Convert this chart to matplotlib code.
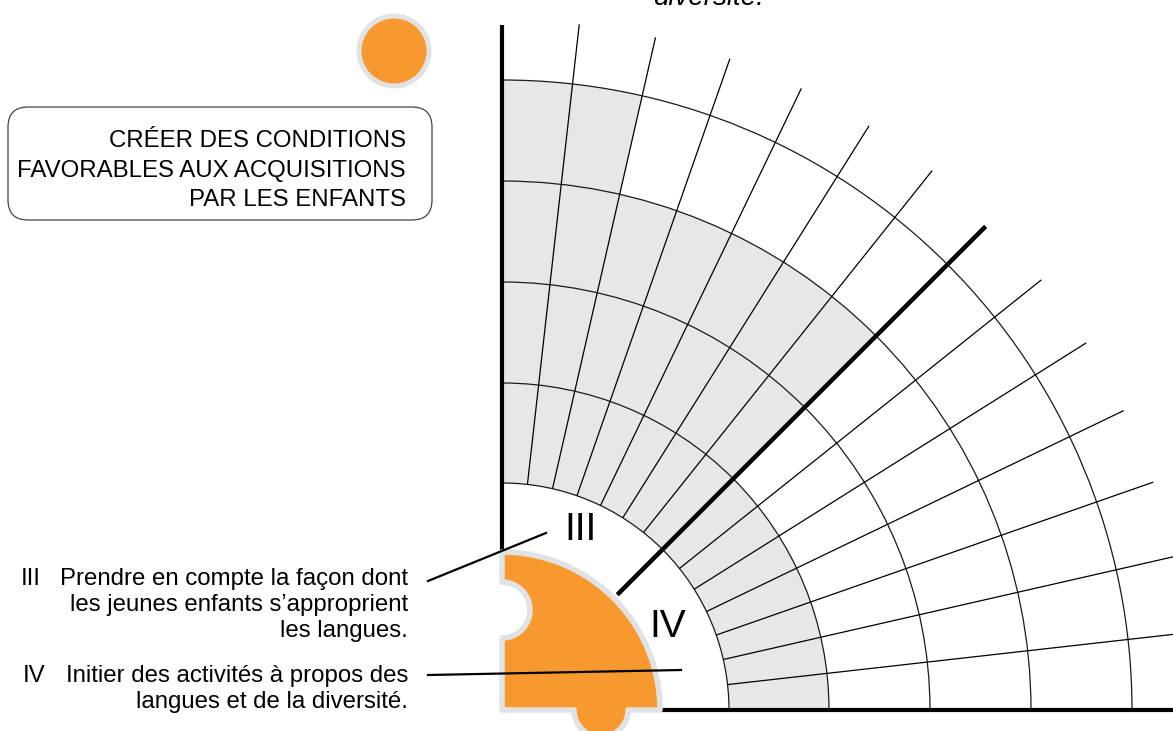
import numpy as np
import matplotlib
matplotlib.use("Agg")
import matplotlib.pyplot as plt
from matplotlib.patches import Wedge, Arc, Circle, FancyBboxPatch, PathPatch
from matplotlib.path import Path

plt.rcParams["font.family"] = ["Liberation Sans", "DejaVu Sans"]

# ---- diagram data (pixel units, y measured upward from the bottom) ----
W, H = 1173, 731
center = (502, 21)
ring_radii = [227, 327, 428, 529, 630]      # arcs of the grid
n_sectors = 14                              # spokes divide 90 deg into 14
grey_sectors_from_top = [14, 7, 7, 2]       # shaded cells per ring, counted from 90 deg
spoke_outer = 690
core_radius = 158                           # orange quarter disc

box_lines = ["CRÉER DES CONDITIONS", "FAVORABLES AUX ACQUISITIONS", "PAR LES ENFANTS"]
item_numerals = ["III", "IV"]
item_lines = [
    ["Prendre en compte la façon dont", "les jeunes enfants s’approprient", "les langues."],
    ["Initier des activités à propos des", "langues et de la diversité."],
]

ORANGE = "#f7992f"
GREY_FILL = "#e6e7e8"
OUTLINE = "#e1e2e3"

fig = plt.figure(figsize=(W / 100, H / 100), dpi=100)
ax = fig.add_axes([0, 0, 1, 1])
ax.set_xlim(0, W)
ax.set_ylim(0, H)
ax.axis("off")

cx, cy = center
step = 90 / n_sectors

# ---- shaded cells ----
for i, n_grey in enumerate(grey_sectors_from_top):
    r0, r1 = ring_radii[i], ring_radii[i + 1]
    ax.add_patch(Wedge(center, r1, 90 - n_grey * step, 90, width=r1 - r0,
                       facecolor=GREY_FILL, edgecolor="none", zorder=1))

# ---- grid arcs ----
for r in ring_radii:
    ax.add_patch(Arc(center, 2 * r, 2 * r, theta1=0, theta2=90,
                     color="#1a1a1a", lw=0.9, zorder=2))

# ---- spokes ----
for k in range(1, n_sectors):
    a = np.radians(k * step)
    if k == n_sectors // 2:
        r_in, r_out, lw = 163, 684, 3.2
    else:
        r_in, r_out, lw = ring_radii[0], spoke_outer, 0.9
    ax.plot([cx + r_in * np.cos(a), cx + r_out * np.cos(a)],
            [cy + r_in * np.sin(a), cy + r_out * np.sin(a)],
            color="black", lw=lw, solid_capstyle="butt", zorder=3)

# ---- main axes ----
ax.plot([cx, cx], [cy + core_radius, H - 25], color="black", lw=3,
        solid_capstyle="butt", zorder=3)
ax.plot([cx + core_radius, W], [cy, cy], color="black", lw=3,
        solid_capstyle="butt", zorder=3)


# ---- orange puzzle quarter ----
def arc_pts(x0, y0, r, a0, a1, n=60):
    t = np.radians(np.linspace(a0, a1, n))
    return list(zip(x0 + r * np.cos(t), y0 + r * np.sin(t)))


verts = [(cx, cy), (574, cy)]
verts += arc_pts(601, cy, 27, 180, 360)
verts += [(cx + core_radius, cy)]
verts += arc_pts(cx, cy, core_radius, 0, 90)
verts += [(cx, 149)]
verts += arc_pts(cx, 121, 28, 90, -90)
verts += [(cx, cy), (cx, cy)]
codes = [Path.MOVETO] + [Path.LINETO] * (len(verts) - 2) + [Path.CLOSEPOLY]
ax.add_patch(PathPatch(Path(verts, codes), facecolor=ORANGE, edgecolor=OUTLINE,
                       lw=4, joinstyle="round", zorder=4, clip_on=False))

# ---- numerals on the diagram and leader lines ----
ax.text(580, 201, "III", fontsize=28, ha="center", va="center", zorder=6)
ax.text(668, 104, "IV", fontsize=28, ha="center", va="center", zorder=6)
ax.plot([428, 546], [150, 198], color="black", lw=1.6, zorder=6)
ax.plot([428, 681], [56, 61], color="black", lw=1.6, zorder=6)

# ---- left side texts ----
baselines = [[146, 120, 94], [49, 23]]
num_x = [21, 23]
for num, lines, ys, nx in zip(item_numerals, item_lines, baselines, num_x):
    ax.text(nx, ys[0], num, fontsize=17.3, ha="left", va="baseline")
    for line, y in zip(lines, ys):
        ax.text(408, y, line, fontsize=17.3, ha="right", va="baseline")

ax.add_patch(FancyBboxPatch((8 + 20, 731 - 220 + 20), 424 - 40, 113 - 40,
                            boxstyle="round,pad=20", facecolor="white",
                            edgecolor="#444444", lw=0.9, zorder=2))
for line, y in zip(box_lines, [584, 554, 525]):
    ax.text(406, y, line, fontsize=17.3, ha="right", va="baseline", zorder=3)

ax.add_patch(Circle((394, 680), 37.5, facecolor=OUTLINE, edgecolor="none"))
ax.add_patch(Circle((394, 680), 32.5, facecolor=ORANGE, edgecolor="none"))

# only the bottom of this word shows in the source picture
ax.text(708, 726, "diversité.", fontsize=20, style="italic", ha="center",
        va="baseline")

fig.savefig("out.png", dpi=100)
